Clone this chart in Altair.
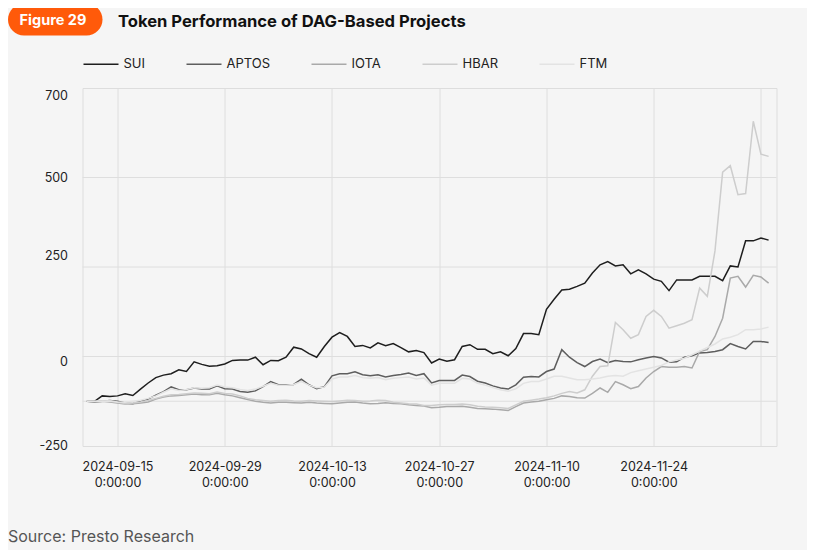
import altair as alt
import pandas as pd

# ---------------- data ----------------
series = ["SUI", "APTOS", "IOTA", "HBAR", "FTM"]
colors = ["#1e1e1e", "#5e5e5e", "#a9a9a9", "#cdcdcd", "#e3e3e3"]
dates = pd.date_range("2024-09-11", periods=90, freq="D")

sui = [0, 0, 15, 13, 15, 21, 16, 34, 51, 66,
       73, 77, 88, 83, 110, 103, 98, 99, 104, 114,
       115, 115, 123, 102, 114, 113, 123, 151, 146, 133,
       123, 153, 179, 192, 181, 153, 156, 149, 163, 155,
       161, 150, 138, 142, 136, 107, 118, 112, 116, 153,
       158, 145, 145, 133, 138, 127, 147, 189, 189, 186,
       257, 285, 311, 313, 321, 330, 358, 381, 390, 378,
       381, 356, 367, 356, 341, 335, 309, 339, 339, 339,
       349, 349, 349, 337, 378, 375, 448, 448, 456, 450]
aptos = [0, -2, 0, 2, 0, -5, -7, 0, 6, 17,
         27, 40, 32, 32, 37, 34, 34, 43, 35, 34,
         27, 25, 29, 41, 55, 46, 46, 47, 62, 46,
         35, 41, 71, 77, 77, 82, 74, 71, 74, 68,
         72, 75, 79, 72, 77, 51, 58, 58, 58, 73,
         69, 56, 51, 43, 37, 34, 46, 67, 69, 68,
         83, 90, 144, 123, 108, 97, 111, 118, 108, 114,
         111, 110, 116, 121, 125, 121, 109, 110, 123, 127,
         135, 136, 139, 144, 161, 153, 146, 167, 167, 164]
iota = [0, -1, 0, -2, -5, -8, -7, -5, -2,
        6, 12, 15, 16, 18, 20, 18, 18, 22, 18, 15,
        10, 5, 0, -3, -5, -3, -3, -4, -5, -3, -5, -6,
        -7, -5, -3, -2, -5, -7, -6, -4, -6, -7, -10, -12, -13,
        -18, -17, -15, -15, -14, -17, -20, -21, -22, -24, -26,
        -15, -5, -2, 0, 4, 8, 15, 13, 10, 9, 22,
        37, 25, 55, 46, 35, 41, 65, 83, 97, 95, 95, 97, 93, 139, 144, 181,
        232, 344, 349, 319, 352, 347, 330]
hbar = [0, -1, 0, 2, -3, -6, -5, -2, 2, 8, 14, 18, 19, 21, 23, 22, 21, 26, 22, 20, 15,
        8, 4, 2, 0, 2, 3, 1, 0, 2, 1, 0, -1, 1, 3, 2, 0, 1, 3, 2, -3, -5, -7, -8, -12,
        -12, -10, -9, -9, -8, -10, -14, -16, -17, -18, -20,
        -10, 0, 3, 6, 10, 15, 22, 27, 23, 32, 70,
        97, 99, 220, 200, 176, 186, 237, 254, 237, 204, 211, 218, 228, 316, 293, 420,
        640, 658, 577, 580, 782, 690, 684]
ftm = [0, 0, 1, 0, -2, -3, 0, 3, 8,
       15, 25, 35, 30, 33, 38, 36, 38, 45, 40, 38, 33, 30, 34, 42, 50, 45, 45, 47, 55, 45, 38, 40,
       62, 68, 68, 72, 66, 64, 66, 60, 64, 66, 68, 62, 65, 45, 50, 50, 50, 64, 62, 50, 45, 38, 32, 28,
       35, 50, 55, 55, 62, 70, 70, 65, 60, 60, 62, 65, 70, 72, 70, 80, 85, 90, 95, 100,
       110, 115, 120, 130, 140, 150, 160, 174, 179, 186, 200, 200, 202, 207]

# y axis: label texts and where they sit, grid values
ytick_text = ["700", "500", "250", "0", "-250"]
ytick_pos = [855, 626, 407, 110, -124]
grid_vals = [0, 125, 375, 625]
y_domain = [-125, 875]

# x axis ticks
x_tick_dates = ["2024-09-15", "2024-09-29", "2024-10-13", "2024-10-27",
                "2024-11-10", "2024-11-24", "2024-12-08"]
x_domain = ["2024-09-10 10:15", "2024-12-10 00:45"]

title_text = "Token Performance of DAG-Based Projects"
badge_text = "Figure 29"
source_text = "Source: Presto Research"

# ---------------- build ----------------
rows = []
for name, vals in zip(series, [sui, aptos, iota, hbar, ftm]):
    for d, v in zip(dates, vals):
        rows.append({"date": d.strftime("%Y-%m-%d"), "series": name, "value": v})
df = pd.DataFrame(rows)


def ms(s):
    return int(pd.Timestamp(s, tz="UTC").value // 1_000_000)


xvals = [ms(d) for d in x_tick_dates]
xdom = [ms(d) for d in x_domain]

ylabel_expr = " : ".join(
    f"datum.value == {p} ? '{t}'" for p, t in zip(ytick_pos, ytick_text)
) + " : ''"
xlabel_expr = ("utcFormat(datum.value, '%m-%d') == '12-08' ? '' : "
               "[utcFormat(datum.value, '%Y-%m-%d'), '0:00:00']")

yscale = alt.Scale(domain=y_domain, nice=False, zero=False)

grid = alt.Chart(pd.DataFrame({"value": grid_vals})).mark_rule(
    color="#dedede", strokeWidth=1
).encode(y=alt.Y("value:Q", scale=yscale))

lines = alt.Chart(df).mark_line(strokeWidth=1.5).encode(
    x=alt.X("date:T",
            scale=alt.Scale(type="utc", domain=xdom),
            axis=alt.Axis(values=xvals, labelExpr=xlabel_expr, grid=True,
                          gridColor="#dedede", ticks=False, domain=False,
                          labelPadding=14, labelFontSize=12.5, labelColor="#222",
                          labelLineHeight=16, labelAngle=0, title=None)),
    y=alt.Y("value:Q", scale=yscale,
            axis=alt.Axis(values=ytick_pos, labelExpr=ylabel_expr, grid=False,
                          ticks=False, domain=False, labelPadding=15,
                          labelFontSize=12.5, labelColor="#222", title=None)),
    color=alt.Color("series:N",
                    scale=alt.Scale(domain=series, range=colors),
                    sort=series,
                    legend=alt.Legend(title=None, orient="none", legendX=0, legendY=-42.5,
                                      direction="horizontal", columns=5,
                                      columnPadding=38, symbolType="stroke",
                                      symbolSize=1225, symbolStrokeWidth=1.5,
                                      labelFontSize=13, labelColor="#222",
                                      labelOffset=4, padding=0)),
    order=alt.Order("series:N", sort="descending"),
)

badge = alt.Chart(pd.DataFrame({"t": [badge_text]})).mark_rect(
    color="#ff5a0a", cornerRadius=16
).encode(x=alt.value(-74.5), x2=alt.value(20), y=alt.value(-84.5), y2=alt.value(-52.5))

badge_label = alt.Chart(pd.DataFrame({"t": [badge_text]})).mark_text(
    color="white", fontWeight="bold", fontSize=14.5, align="center", baseline="alphabetic"
).encode(text="t:N", x=alt.value(-29.5), y=alt.value(-63))

title = alt.Chart(pd.DataFrame({"t": [title_text]})).mark_text(
    color="#111", fontWeight="bold", fontSize=16.6, align="left", baseline="alphabetic"
).encode(text="t:N", x=alt.value(35.5), y=alt.value(-61.5))

source = alt.Chart(pd.DataFrame({"t": [source_text]})).mark_text(
    color="#555", fontSize=16, align="left", baseline="alphabetic"
).encode(text="t:N", x=alt.value(-74.5), y=alt.value(453.5))

chart = alt.layer(grid, lines, badge, badge_label, title, source).properties(
    width=694, height=358,
    autosize=alt.AutoSizeParams(type="none"),
    padding={"left": 74.5, "top": 80, "right": 30, "bottom": 104},
    background="#f5f5f5",
).configure_view(stroke="#dcdcdc").configure(font="Inter")

chart.save("out.html", embed_options={"renderer": "svg", "actions": False})
